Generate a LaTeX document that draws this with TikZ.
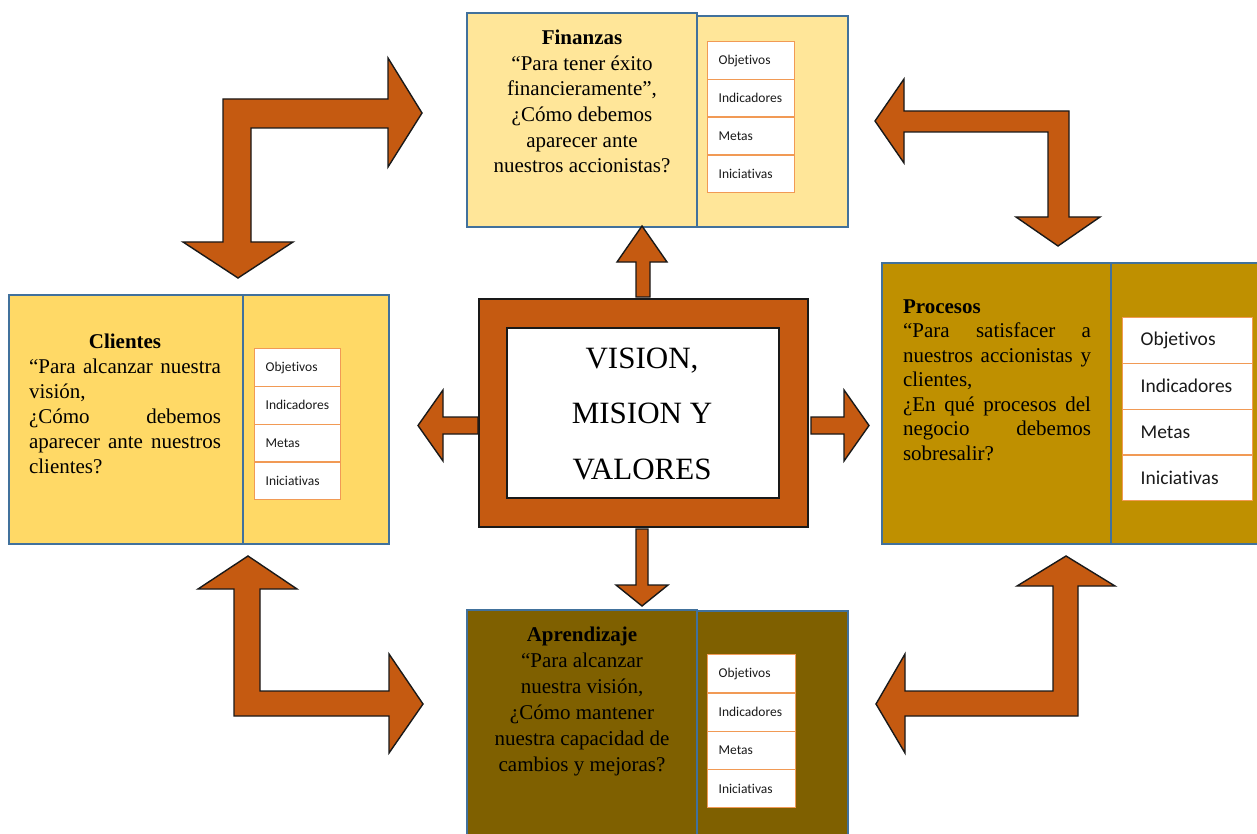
\documentclass[tikz,border=0pt]{standalone}
\usepackage{fontspec}
\setmainfont{Liberation Serif}
\newfontfamily\cellfont[Ligatures={NoCommon,NoContextual}]{Carlito}
\definecolor{arrowor}{HTML}{C55A11}
\definecolor{bblue}{HTML}{41719C}
\definecolor{finc}{HTML}{FFE699}
\definecolor{clic}{HTML}{FFD966}
\definecolor{proc}{HTML}{BF9000}
\definecolor{aprc}{HTML}{7F6000}
\definecolor{cellline}{HTML}{F19A55}
\definecolor{celltext}{HTML}{1A1A1A}
\newcommand{\metricas}[6]{%
  \foreach \lab [count=\i from 0] in {Objetivos,Indicadores,Metas,Iniciativas} {
    \node[cell, minimum width=#4, minimum height=#5, anchor=north west,
          inner xsep=#6, text width=#4-2*#6, align=left]
      (#1\i) at (#2, {#3+\i*#5}) {\lab};
  }%
}
\begin{document}
\begin{tikzpicture}[x=1pt,y=-1pt,
  panel/.style={draw=bblue, line width=2pt, anchor=north west, inner sep=0pt},
  blockarrow/.style={fill=arrowor, draw=black!90, line width=1.4pt, line join=miter},
  cell/.style={draw=cellline, line width=1.3pt, fill=white, inner ysep=0pt, text=celltext},
  txt/.style={anchor=base, inner sep=0pt, text=black}]
\useasboundingbox (0,0) rectangle (1257,834);
\fill[white] (0,0) rectangle (1257,834);

% ---------- panels ----------
\node[panel, fill=finc, minimum width=151, minimum height=211] (finR) at (696,15) {};
\node[panel, fill=finc, minimum width=230, minimum height=214] (finL) at (466,12) {};
\node[panel, fill=clic, minimum width=146, minimum height=249] (cliR) at (242,294) {};
\node[panel, fill=clic, minimum width=234, minimum height=249] (cliL) at (8,294) {};
\node[panel, fill=proc, minimum width=152, minimum height=281] (proR) at (1110,262) {};
\node[panel, fill=proc, minimum width=229, minimum height=281] (proL) at (881,262) {};
\node[panel, fill=aprc, minimum width=151, minimum height=232] (aprR) at (696,610) {};
\node[panel, fill=aprc, minimum width=230, minimum height=233] (aprL) at (466,609) {};

% ---------- tables ----------
\begin{scope}[every node/.append style={font=\cellfont\fontsize{13.5}{15}\selectfont}]
\metricas{fin}{707}{41}{87}{37.75}{11}
\metricas{cli}{254}{348}{86}{37.75}{11}
\metricas{apr}{707}{654}{88}{38.25}{11}
\end{scope}
\begin{scope}[every node/.append style={font=\cellfont\fontsize{19.5}{21}\selectfont}]
\metricas{pro}{1122}{317}{130}{45.75}{18}
\end{scope}

% ---------- texts ----------
\node[txt] (fintxt) at (582,44.5) {\parbox[t]{225pt}{\fontsize{21}{25.7}\selectfont\centering
  \textbf{Finanzas}\\ “Para tener éxito\\ financieramente”,\\ ¿Cómo debemos\\ aparecer ante\\ nuestros accionistas?}};
\node[txt] (clitxt) at (125,348) {\parbox[t]{192pt}{\fontsize{21}{25}\selectfont\centering
  \textbf{Clientes}\\
  \makebox[192pt][s]{“Para alcanzar nuestra}\\
  \makebox[192pt][l]{visión,}\\
  \makebox[192pt][s]{¿Cómo debemos}\\
  \makebox[192pt][s]{aparecer ante nuestros}\\
  \makebox[192pt][l]{clientes?}}};
\node[txt] (protxt) at (997,313) {\parbox[t]{188pt}{\fontsize{21}{24.5}\selectfont\centering
  \makebox[188pt][l]{\textbf{Procesos}}\\
  \makebox[188pt][s]{“Para satisfacer a}\\
  \makebox[188pt][s]{nuestros accionistas y}\\
  \makebox[188pt][l]{clientes,}\\
  \makebox[188pt][s]{¿En qué procesos del}\\
  \makebox[188pt][s]{negocio debemos}\\
  \makebox[188pt][l]{sobresalir?}}};
\node[txt] (aprtxt) at (582,641) {\parbox[t]{225pt}{\fontsize{21}{26}\selectfont\centering
  \textbf{Aprendizaje}\\ “Para alcanzar\\ nuestra visión,\\ ¿Cómo mantener\\ nuestra capacidad de\\ cambios y mejoras?}};

% ---------- centre ----------
\node[anchor=north west, fill=arrowor, draw=black!90, line width=1.5pt, inner sep=0pt,
      minimum width=329, minimum height=228] (frame) at (478,298) {};
\node[anchor=north west, fill=white, draw=black!90, line width=1.5pt, inner sep=0pt,
      minimum width=272, minimum height=170] (vision) at (506,327) {};
\node[txt] (vistxt) at (642,368) {\parbox[t]{260pt}{\fontsize{31}{55.5}\selectfont\centering
  VISION,\\ MISION Y\\ VALORES}};

% ---------- small arrows ----------
\draw[blockarrow] (636,297) -- (636,262) -- (617,262) -- (642,226) -- (667,262) -- (650,262) -- (650,297) -- cycle;
\draw[blockarrow] (636,529) -- (636,585) -- (616,585) -- (642,606) -- (668,585) -- (648,585) -- (648,529) -- cycle;
\draw[blockarrow] (478,417) -- (443,417) -- (443,390) -- (418,425.5) -- (443,461) -- (443,434) -- (478,434) -- cycle;
\draw[blockarrow] (811,417) -- (844,417) -- (844,390) -- (869,425.5) -- (844,461) -- (844,434) -- (811,434) -- cycle;

% ---------- big L arrows ----------
\draw[blockarrow] (223,99) -- (388,99) -- (388,58) -- (422,113) -- (388,167) -- (388,128)
  -- (251,128) -- (251,242) -- (293,242) -- (238,278) -- (183,242) -- (223,242) -- cycle;
\draw[blockarrow] (904,111) -- (1069,111) -- (1069,217) -- (1100,217) -- (1058,246) -- (1016,217)
  -- (1048,217) -- (1048,132) -- (904,132) -- (904,163) -- (875,121) -- (904,79) -- cycle;
\draw[blockarrow] (234,716) -- (234,589) -- (198,589) -- (248,556) -- (297,589) -- (260,589)
  -- (260,691) -- (389,691) -- (389,654) -- (423,704) -- (389,753) -- (389,716) -- cycle;
\draw[blockarrow] (1078,716) -- (1078,586) -- (1115,586) -- (1066,556) -- (1017,586) -- (1053,586)
  -- (1053,691) -- (905,691) -- (905,654) -- (876,704) -- (905,753) -- (905,716) -- cycle;
\end{tikzpicture}
\end{document}
